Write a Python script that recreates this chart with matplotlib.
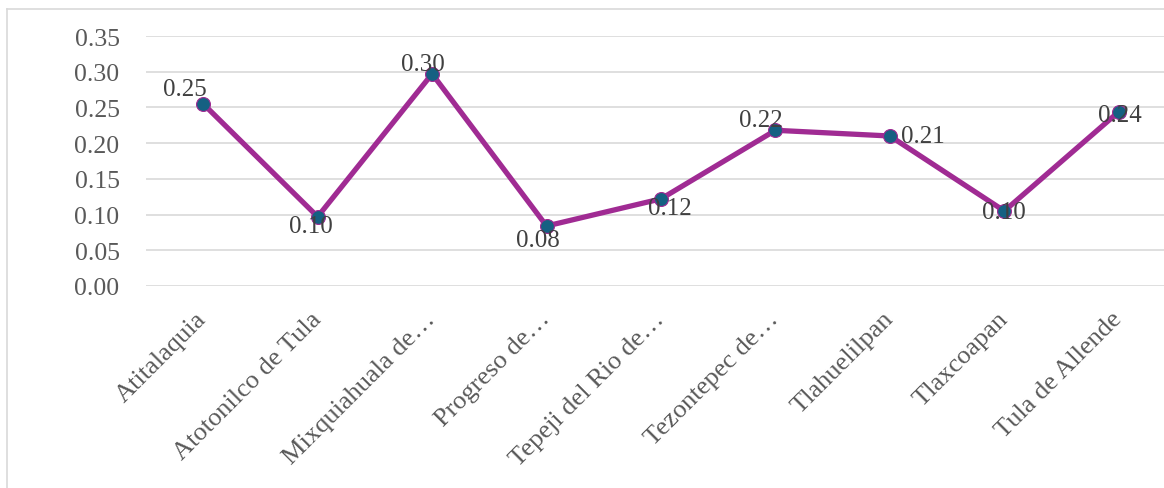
import matplotlib.pyplot as plt
import matplotlib.transforms as mtransforms
from matplotlib.lines import Line2D

plt.rcParams['font.family'] = ['Liberation Serif', 'DejaVu Serif']

# data
municipios = ['Atitalaquia', 'Atotonilco de Tula', 'Mixquiahuala de…',
              'Progreso de…', 'Tepeji del Rio de…', 'Tezontepec de…',
              'Tlahuelilpan', 'Tlaxcoapan', 'Tula de Allende']
valores = [0.255, 0.097, 0.297, 0.084, 0.122, 0.218, 0.210, 0.105, 0.244]
etiquetas = ['0.25', '0.10', '0.30', '0.08', '0.12', '0.22', '0.21', '0.10', '0.24']

# label offsets in pixels (dx, dy up)
offsets = [(-18, 15), (-7, -9), (-9, 10), (-9, -14), (9, -9),
           (-15, 10), (33, 0), (0, -1), (1, -3)]

W, H = 1164, 489
fig = plt.figure(figsize=(W / 100, H / 100), dpi=100)

# chart border (light gray)
fig.add_artist(Line2D([7 / W, 7 / W], [0, 1 - 10 / H], color='#d9d9d9', lw=1.2,
                      transform=fig.transFigure))
fig.add_artist(Line2D([7 / W, 1], [1 - 10 / H, 1 - 10 / H], color='#d9d9d9', lw=1.2,
                      transform=fig.transFigure))

ax = fig.add_axes([146 / W, 1 - 287 / H, 1030 / W, 250 / H])
x = list(range(len(municipios)))
ax.plot(x, valores, color='#A02B93', lw=3.8, zorder=3)
ax.plot(x, valores, 'o', ms=10, color='#156082', mec='#A02B93', mew=0.8, zorder=4)

for xi, v, t, (dx, dy) in zip(x, valores, etiquetas, offsets):
    ax.annotate(t, (xi, v), xytext=(dx * 0.72, dy * 0.72), textcoords='offset points',
                ha='center', va='center', fontsize=18, color='#404040', zorder=5)

ax.set_xlim(-0.5, len(municipios) - 0.5)
ax.set_ylim(0, 0.35)
ax.set_yticks([0, 0.05, 0.10, 0.15, 0.20, 0.25, 0.30, 0.35])
ax.set_yticklabels(['%.2f' % t for t in ax.get_yticks()])
ax.grid(axis='y', color='#d9d9d9', lw=1.2)
ax.set_axisbelow(True)
for s in ax.spines.values():
    s.set_visible(False)
ax.tick_params(axis='both', length=0, labelsize=18.5, colors='#595959')
ax.tick_params(axis='y', pad=19)

ax.set_xticks(x)
ax.set_xticklabels(municipios, rotation=45, ha='right', va='center',
                   rotation_mode='anchor', fontsize=19)
ax.tick_params(axis='x', pad=21)
shift = mtransforms.ScaledTranslation(0, 0, fig.dpi_scale_trans)
for lbl in ax.get_xticklabels():
    lbl.set_transform(lbl.get_transform() + shift)

fig.savefig('out.png', dpi=100)
